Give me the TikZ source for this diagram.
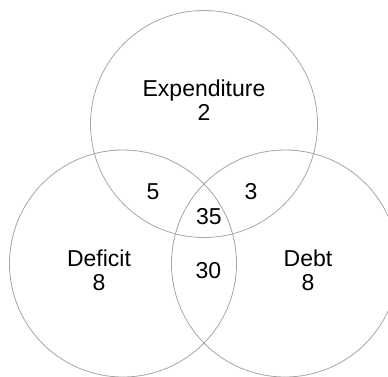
\documentclass[tikz,border=0pt]{standalone}
\usepackage{fontspec}
\setmainfont{Liberation Sans}
\usepackage{tikz}
\usetikzlibrary{positioning}
\definecolor{venngray}{RGB}{165,165,165}

\begin{document}
\begin{tikzpicture}[
      x=1pt,y=1pt,
      venn/.style={
        circle,
        draw=venngray,
        line width=0.8pt,
        inner sep=0pt,
        minimum size=227pt
      },
      setlabel/.style={
        align=center,
        inner sep=0pt,
        font=\fontsize{23}{24}\selectfont
      }
    ]
      \useasboundingbox (0,0) rectangle (388,-376);
      \node[venn] (expend) at (204,-124) {};
      \node[venn] (deficit) at (123,-263.5) {};
      \node[venn] (debt) at (285,-263.5) {};
      \node[setlabel] (expendlbl) at (204,-100) {Expenditure\\2};
      \node[setlabel] (deficitlbl) at (99,-270.5) {Deficit\\8};
      \node[setlabel] (debtlbl) at (308,-270.5) {Debt\\8};
      \node[setlabel] (expdef) at (153,-192) {5};
      \node[setlabel] (expdebt) at (251,-192) {3};
      \node[setlabel] (allthree) at (209,-217) {35};
      \node[setlabel] (defdebt) at (208.5,-270.5) {30};
    \end{tikzpicture}
\end{document}
